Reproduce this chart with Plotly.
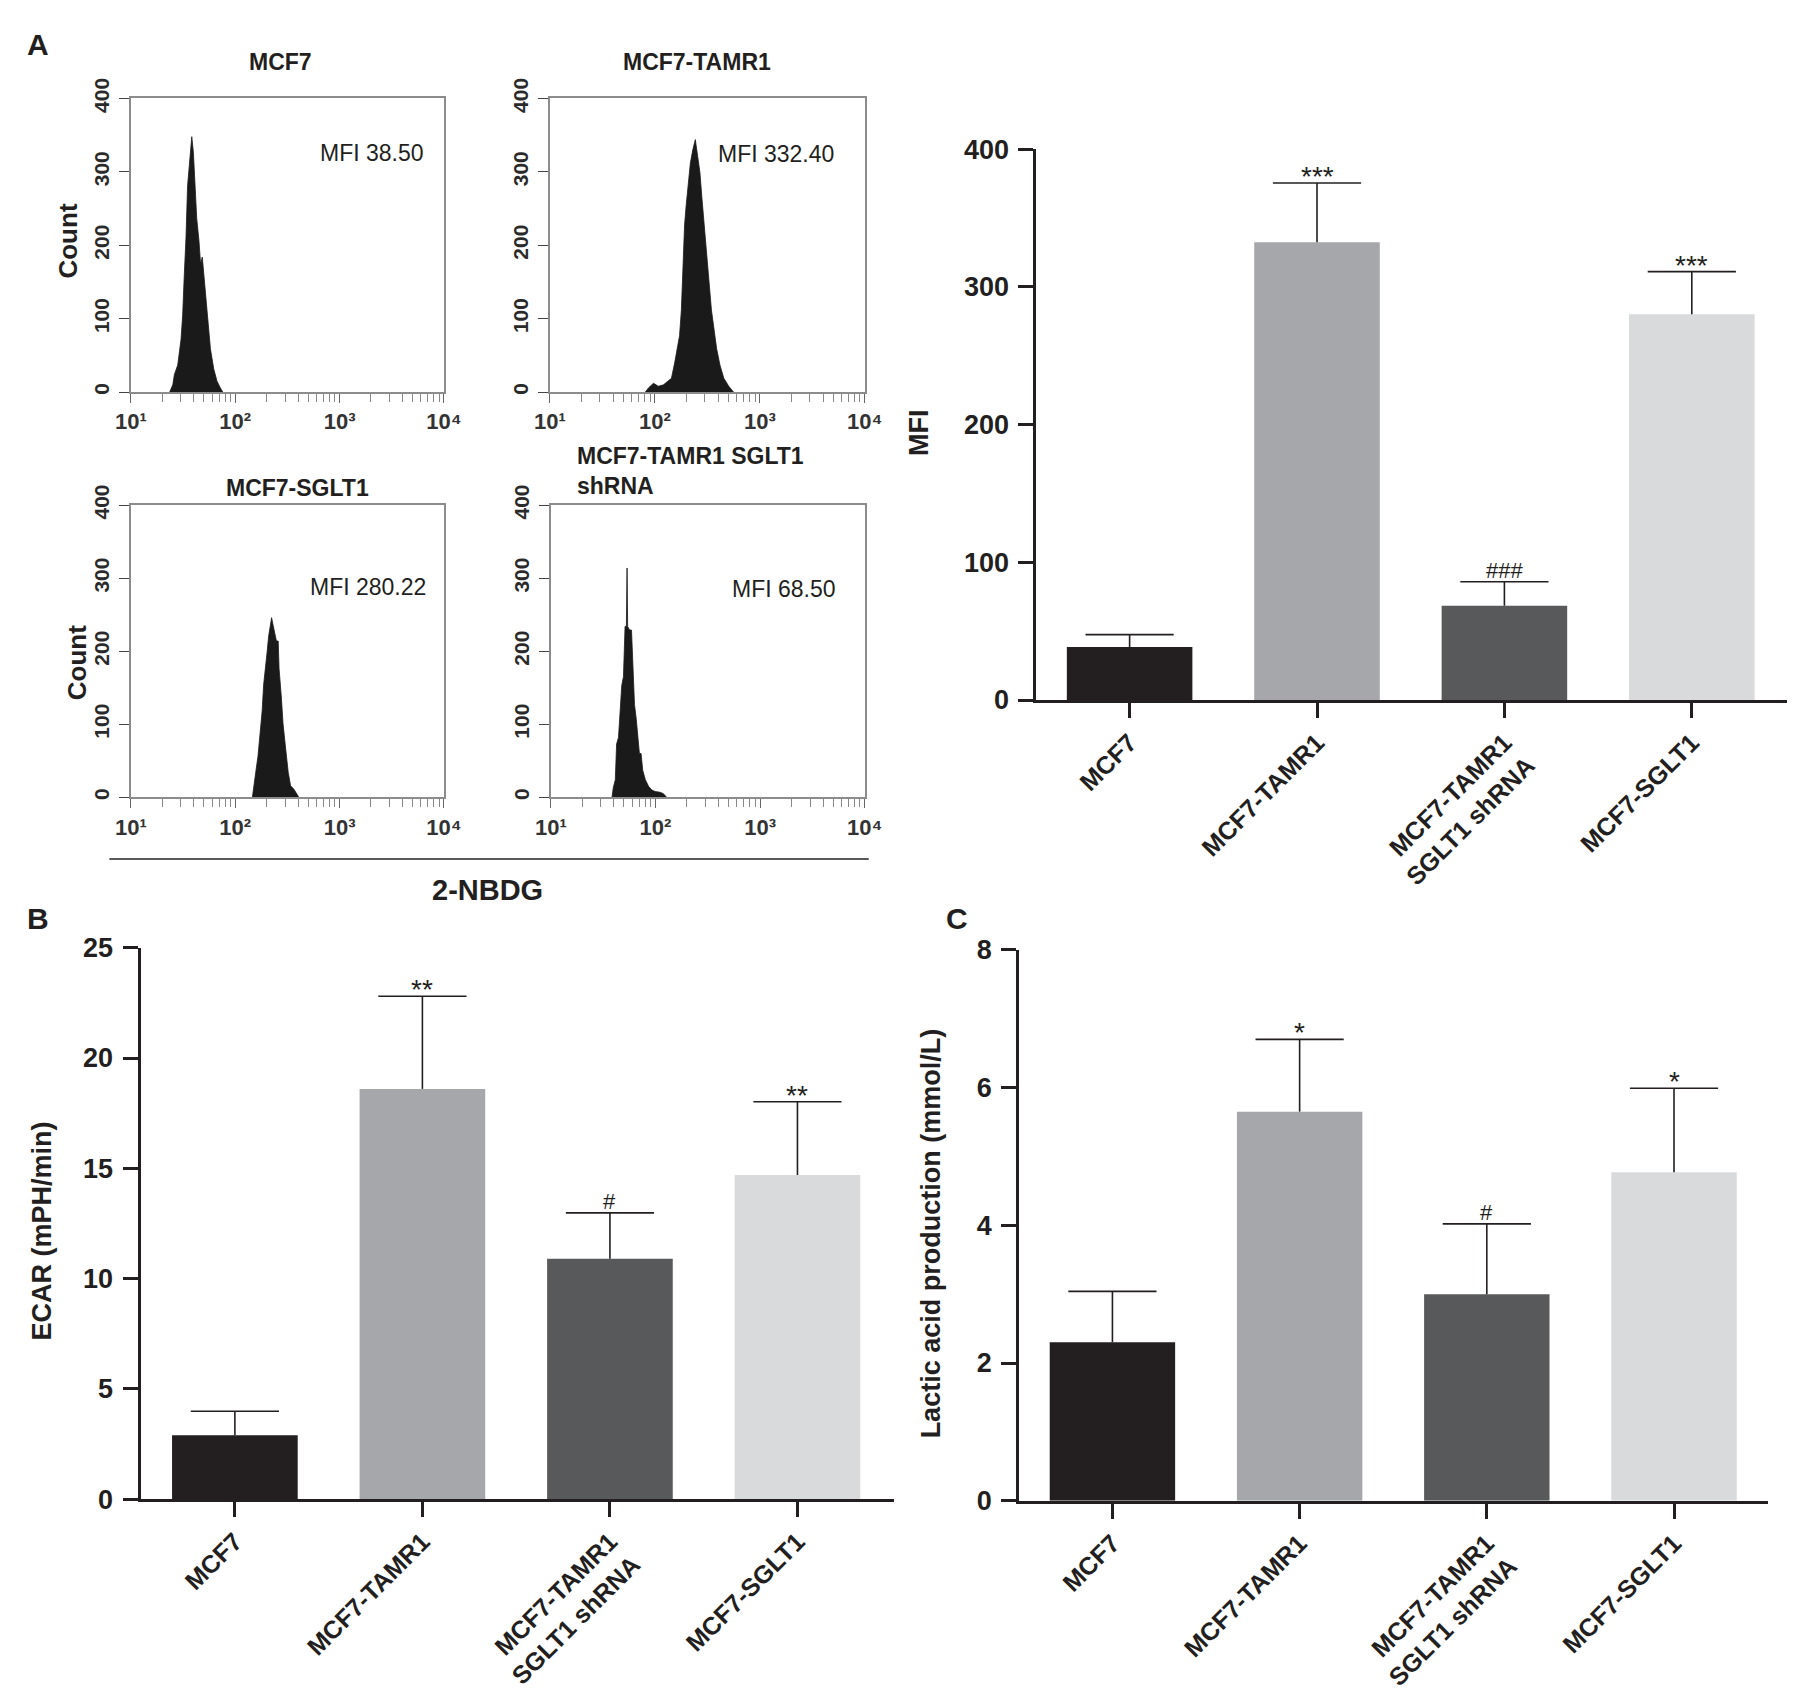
import plotly.graph_objects as go

# ---------------- data ----------------
# flow cytometry histograms, 2-NBDG channel value vs. cell count
hist_titles = ['MCF7', 'MCF7-TAMR1', 'MCF7-SGLT1', 'MCF7-TAMR1 SGLT1<br>shRNA']
hist_mfi = ['MFI 38.50', 'MFI 332.40', 'MFI 280.22', 'MFI 68.50']

mcf7_channel = [23.5, 25.2, 26.1, 28.1, 30.2, 31.3, 32.4, 33.7, 34.9, 36.1, 37.5, 38.3, 39.7,
                40.9, 42.7, 44.9, 46.5, 48.3, 50.0, 51.9, 54.5, 57.8, 62.1, 66.8, 71.8, 76.0]
mcf7_count = [0, 10, 24, 37, 72, 104, 157, 210, 281, 308, 335, 348, 326,
              295, 237, 206, 175, 184, 161, 130, 95, 59, 32, 15, 6, 0]

tamr1_channel = [81.1, 87.3, 97.2, 108, 121, 134, 144, 155, 164, 172, 179, 185, 192, 199, 209, 218,
                 230, 243, 256, 269, 281, 295, 313, 329, 346, 366, 388, 417, 454, 506, 563]
tamr1_count = [0, 6, 12, 8, 10, 15, 19, 41, 59, 77, 112, 175, 228, 255, 286, 312,
               330, 344, 321, 299, 264, 228, 184, 148, 112, 86, 59, 37, 19, 8, 0]

sglt1_channel = [146, 150, 157, 165, 173, 181, 187, 194, 202, 209, 217, 223, 231,
                 240, 248, 258, 263, 277, 287, 305, 322, 339, 365, 392, 406]
sglt1_count = [0, 16, 34, 56, 83, 118, 154, 181, 199, 221, 235, 246, 235,
               221, 214, 214, 176, 136, 101, 65, 34, 16, 11, 4, 0]

shrna_channel = [38.4, 39.5, 41.3, 42.5, 44.3, 45.6, 47.6, 49.4, 51.2, 52.7, 53.5, 54.2, 56.6, 59.0,
                 60.8, 63.0, 65.3, 67.8, 70.2, 72.8, 75.5, 80.0, 85.9, 92.2, 99.1, 110, 119, 128]
shrna_count = [0, 13, 24, 73, 82, 118, 153, 165, 234, 234, 314, 234, 229, 229,
               176, 127, 109, 77, 60, 60, 37, 24, 15, 10, 8, 7, 5, 0]

log_tickvals = [10, 100, 1000, 10000]
log_ticktext = ['10¹', '10²', '10³', '10⁴']
count_ticks = [0, 100, 200, 300, 400]

# bar charts
groups = ['MCF7', 'MCF7-TAMR1', 'MCF7-TAMR1 SGLT1 shRNA', 'MCF7-SGLT1']
group_labels = ['MCF7', 'MCF7-TAMR1', 'MCF7-TAMR1<br>SGLT1 shRNA', 'MCF7-SGLT1']
bar_colors = ['#231f20', '#a6a7ab', '#58595b', '#d9dadc']

mfi_mean = [38.5, 332.4, 68.5, 280.22]
mfi_err = [9.0, 43.1, 17.4, 30.9]
mfi_marks = ['', '***', '###', '***']

ecar_mean = [2.9, 18.6, 10.9, 14.7]
ecar_err = [1.08, 4.2, 2.08, 3.32]
ecar_marks = ['', '**', '#', '**']

lactic_mean = [2.3, 5.65, 3.0, 4.77]
lactic_err = [0.74, 1.05, 1.02, 1.22]
lactic_marks = ['', '*', '#', '*']

# ---------------- styling ----------------
W, H = 1797, 1695
FONT = 'Liberation Sans, Arial, sans-serif'
NARROW = 'Liberation Sans Narrow, Liberation Sans, Arial, sans-serif'
INK = '#231f20'
FRAME = '#8c8c8c'


def px(x):
    return x / W


def py(y):
    return 1 - y / H


fig = go.Figure()

# ---- panel A: four histograms ----
hist_data = [(mcf7_channel, mcf7_count), (tamr1_channel, tamr1_count),
             (sglt1_channel, sglt1_count), (shrna_channel, shrna_count)]
hist_boxes = [(109, 428, 71, 371), (536, 857, 71, 371),
              (109, 428, 486.5, 785), (537, 857, 486.5, 785)]
minor_vals = [m * 10 ** d for d in (1, 2, 3) for m in range(2, 10)]

for i, (ch, cnt) in enumerate(hist_data):
    n = i + 1
    fig.add_trace(go.Scatter(
        x=ch, y=cnt, mode='lines', fill='tozeroy',
        line=dict(color='#1a1a1a', width=0.8), fillcolor='#1a1a1a',
        xaxis=f'x{n}', yaxis=f'y{n}', showlegend=False, hoverinfo='skip'
    ))
    x0, x1, y0, y1 = hist_boxes[i]
    fig.update_layout({
        f'xaxis{n}': dict(
            domain=[px(x0), px(x1)], anchor=f'y{n}', type='log', range=[1, 4],
            tickmode='array', tickvals=log_tickvals, ticktext=log_ticktext,
            ticks='outside', ticklen=9, tickwidth=1.4, tickcolor='#666',
            minor=dict(tickvals=minor_vals, ticks='outside', ticklen=8,
                       tickwidth=1.3, tickcolor='#888'),
            showline=True, linecolor=FRAME, linewidth=1.6, mirror=True,
            showgrid=False, zeroline=False, ticklabelstandoff=0,
            tickfont=dict(family=NARROW, size=22, color='#333', weight='bold'),
        ),
        f'yaxis{n}': dict(
            domain=[py(y1), py(y0)], anchor=f'x{n}', range=[0, 400],
            tickmode='array', tickvals=count_ticks, tickangle=-90,
            ticks='outside', ticklen=10, tickwidth=1.4, tickcolor='#444',
            showline=True, linecolor=FRAME, linewidth=1.6, mirror=True,
            showgrid=False, zeroline=False, ticklabelstandoff=2,
            tickfont=dict(family=FONT, size=21, color='#2a2a2a', weight='bold'),
        ),
    })


# ---- bar panels ----
def add_bar_panel(n, means, errs, marks, xdom, ydom, xrange, yrange, dtick):
    xa, ya = f'x{n}', f'y{n}'
    fig.add_trace(go.Bar(
        x=groups, y=means, marker_color=bar_colors, marker_line_width=0,
        xaxis=xa, yaxis=ya, showlegend=False
    ))
    # upper error bars only
    stem_x, stem_y = [], []
    for g, m, e in zip(groups, means, errs):
        stem_x += [g, g, None]
        stem_y += [m, m + e, None]
    fig.add_trace(go.Scatter(
        x=stem_x, y=stem_y, mode='lines', line=dict(color=INK, width=1.6),
        xaxis=xa, yaxis=ya, showlegend=False, hoverinfo='skip'
    ))
    tops = [m + e for m, e in zip(means, errs)]
    fig.add_trace(go.Scatter(
        x=groups, y=tops, mode='markers',
        marker=dict(symbol='line-ew', size=63, color=INK, line=dict(color=INK, width=1.6)),
        xaxis=xa, yaxis=ya, showlegend=False, hoverinfo='skip'
    ))
    for g, t, s in zip(groups, tops, marks):
        if not s:
            continue
        star = s.startswith('*')
        fig.add_annotation(
            x=g, y=t, xref=xa, yref=ya, text=s, showarrow=False,
            yanchor='bottom', yshift=-11 if star else -3,
            font=dict(family=FONT, size=28 if star else 22, color=INK)
        )
    fig.update_layout({
        f'xaxis{n}': dict(
            domain=xdom, anchor=ya, range=xrange, tickmode='array',
            tickvals=groups, ticktext=group_labels, tickangle=-45,
            ticks='outside', ticklen=15, tickwidth=2.5, tickcolor=INK,
            showline=True, linecolor=INK, linewidth=3, showgrid=False,
            tickfont=dict(family=FONT, size=25, color=INK, weight='bold'),
        ),
        f'yaxis{n}': dict(
            domain=ydom, anchor=xa, range=yrange, dtick=dtick,
            ticks='outside', ticklen=15, tickwidth=2.5, tickcolor=INK,
            showline=True, linecolor=INK, linewidth=3, showgrid=False,
            zeroline=False, ticklabelstandoff=4,
            tickfont=dict(family=FONT, size=27, color=INK, weight='bold'),
        ),
    })


add_bar_panel(5, mfi_mean, mfi_err, mfi_marks,
              [px(1032), 1.0], [py(685.6), py(122.9)], [-0.497, 3.508], [0, 400], 100)
add_bar_panel(6, ecar_mean, ecar_err, ecar_marks,
              [px(118.8), px(887)], [py(1502), py(938.7)], [-0.503, 3.516], [0, 25], 5)
add_bar_panel(7, lactic_mean, lactic_err, lactic_marks,
              [px(1014.4), px(1778)], [py(1503.7), py(940.8)], [-0.498, 3.504], [0, 8], 2)


# ---- free text ----
def paper_text(text, x, y, size, bold=True, angle=0, xanchor='center', align='center'):
    fig.add_annotation(
        x=px(x), y=py(y), xref='paper', yref='paper', text=text, showarrow=False,
        xanchor=xanchor, yanchor='middle', textangle=angle, align=align,
        font=dict(family=FONT, size=size, color=INK, weight='bold' if bold else 'normal')
    )


paper_text('A', 14, 16, 30)
paper_text('B', 14, 909, 30)
paper_text('C', 951, 909, 30)

paper_text(hist_titles[0], 261, 34, 23)
paper_text(hist_titles[1], 686, 34, 23)
paper_text(hist_titles[2], 279, 469, 23)
paper_text(hist_titles[3], 562, 452, 23, xanchor='left', align='left')

paper_text(hist_mfi[0], 355, 127, 23, bold=False)
paper_text(hist_mfi[1], 766, 128, 23, bold=False)
paper_text(hist_mfi[2], 351, 570, 23, bold=False)
paper_text(hist_mfi[3], 775, 572, 23, bold=False)

paper_text('Count', 45, 217, 26, angle=-90)
paper_text('Count', 54, 647, 26, angle=-90)
paper_text('2-NBDG', 472, 880, 29)

paper_text('MFI', 913, 412, 27, angle=-90)
paper_text('ECAR (mPH/min)', 18, 1228, 27, angle=-90)
paper_text('Lactic acid production (mmol/L)', 924, 1231, 27, angle=-90)

fig.add_shape(type='line', xref='paper', yref='paper',
              x0=px(87), x1=px(861), y0=py(848), y1=py(848),
              line=dict(color=INK, width=1.6))

fig.update_layout(
    width=W, height=H, autosize=False,
    margin=dict(l=0, r=0, t=0, b=0),
    bargap=0.33,
    paper_bgcolor='white', plot_bgcolor='white',
    font=dict(family=FONT, color=INK),
    showlegend=False,
)

fig.write_html("out.html")
